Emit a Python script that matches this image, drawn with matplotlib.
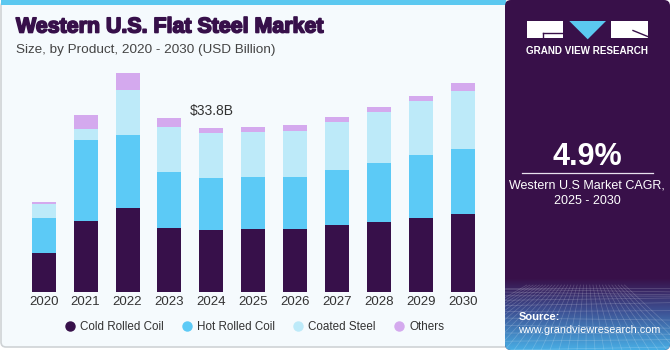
import numpy as np
import matplotlib.pyplot as plt
import matplotlib.patheffects as pe
from matplotlib.patches import FancyBboxPatch, Rectangle, Polygon
from matplotlib.lines import Line2D

plt.rcParams['font.family'] = ['Liberation Sans', 'DejaVu Sans']

# Data (USD Billion)
years = ['2020', '2021', '2022', '2023', '2024', '2025', '2026', '2027', '2028', '2029', '2030']
cold_rolled = [8.0, 14.7, 17.4, 13.3, 12.85, 12.9, 13.0, 13.75, 14.4, 15.25, 16.1]
hot_rolled = [7.2, 16.6, 14.9, 11.4, 10.7, 10.75, 10.75, 11.3, 12.2, 12.9, 13.35]
coated = [2.9, 2.3, 9.2, 9.2, 9.25, 9.3, 9.45, 10.0, 10.4, 11.15, 11.9]
others = [0.4, 2.8, 3.6, 1.85, 1.0, 0.9, 1.1, 0.95, 1.03, 1.03, 1.7]
series_names = ['Cold Rolled Coil', 'Hot Rolled Coil', 'Coated Steel', 'Others']
colors = ['#37104a', '#5ccaf6', '#bdeaf9', '#d4a9ee']
label_year = '2024'
label_text = '$33.8B'
cagr = '4.9%'

W, H = 670, 350
fig = plt.figure(figsize=(W / 100, H / 100), dpi=100)
fig.patch.set_facecolor('white')

# background axes in pixel coordinates
bg = fig.add_axes([0, 0, 1, 1])
bg.set_xlim(0, W)
bg.set_ylim(H, 0)
bg.axis('off')

# left panel
bg.add_patch(FancyBboxPatch((1, 1), 508, 346, boxstyle='round,pad=0,rounding_size=5',
                            facecolor='#f5fafd', edgecolor='#cfd3d6', lw=1.2))
bg.add_patch(Rectangle((1, 0), 505, 5, facecolor='#5bc8f0', edgecolor='none'))

# right panel with gradient bottom
panel = FancyBboxPatch((505, 0), 165, 350, boxstyle='round,pad=0,rounding_size=6',
                       facecolor='#381049', edgecolor='none')
bg.add_patch(panel)
t = np.linspace(0, 1, 100)[:, None]
top = np.array([0x38, 0x10, 0x49]) / 255
mid = np.array([0x3d, 0x4f, 0x92]) / 255
bot = np.array([0x48, 0xad, 0xe4]) / 255
grad = np.where(t < 0.45, top + (mid - top) * (t / 0.45), mid + (bot - mid) * ((t - 0.45) / 0.55))
grad = grad[:, None, :].repeat(2, axis=1)
im = bg.imshow(grad, extent=[505, 670, 350, 278], aspect='auto', zorder=1)
im.set_clip_path(panel)
# perspective grid decoration
for k in range(12):
    yy = 288 + 62 * (k / 11) ** 1.6
    ln, = bg.plot([505, 670], [yy, yy + 3 * np.sin(k)], color='white', lw=0.5, alpha=0.2, zorder=2)
    ln.set_clip_path(panel)
for k in range(-10, 22):
    x0 = 505 + k * 9
    ln, = bg.plot([587 + (x0 - 587) * 0.35, x0], [285, 350], color='white', lw=0.5, alpha=0.2, zorder=2)
    ln.set_clip_path(panel)

# logo
bg.add_patch(Rectangle((527.3, 21), 36, 17.3, facecolor='white', zorder=3))
bg.plot([543.3, 563.3], [33.3, 33.3], color='#381049', lw=1, zorder=4)
bg.plot([543.3, 543.3], [33.3, 38.3], color='#381049', lw=1, zorder=4)
bg.add_patch(Polygon([[569.3, 21], [606, 21], [587.7, 39.3]], facecolor='#5bc8f0', zorder=3))
bg.add_patch(Rectangle((610.7, 21), 37, 17.3, facecolor='white', zorder=3))
bg.plot([633, 647.7], [30.5, 36.5], color='#381049', lw=1, zorder=4)
bg.text(587.5, 51.5, 'GRAND VIEW RESEARCH', color='white', fontsize=7.1, fontweight='bold',
        ha='center', va='center', zorder=4)

bg.text(587, 157, cagr, color='white', fontsize=22, fontweight='bold', ha='center', va='center', zorder=4)
bg.plot([522, 652.7], [173.3, 173.3], color='#e8e2ee', lw=0.9, zorder=4)
bg.text(587, 186, 'Western U.S Market CAGR,', color='white', fontsize=9, ha='center', va='center', zorder=4)
bg.text(587, 201.5, '2025 - 2030', color='white', fontsize=9, ha='center', va='center', zorder=4)
bg.text(518.5, 316.5, 'Source:', color='white', fontsize=8, fontweight='bold', ha='left', va='center', zorder=4)
bg.text(518.5, 330, 'www.grandviewresearch.com', color='white', fontsize=7.8, ha='left', va='center', zorder=4)

# titles
bg.text(16, 27, 'Western U.S. Flat Steel Market', color='#37104a', fontsize=15.4, fontweight='bold',
        ha='left', va='center', path_effects=[pe.withStroke(linewidth=1.2, foreground='#37104a')])
bg.text(16.5, 50, 'Size, by Product, 2020 - 2030 (USD Billion)', color='#444444', fontsize=9.7,
        ha='left', va='center')

# chart axes
ax = fig.add_axes([22.75 / W, (H - 292.3) / H, 461 / W, (292.3 - 60) / H])
ax.set_facecolor('none')
x = np.arange(len(years))
bottom = np.zeros(len(years))
for vals, c, name in zip([cold_rolled, hot_rolled, coated, others], colors, series_names):
    ax.bar(x, vals, bottom=bottom, width=0.573, color=c, edgecolor='none', label=name)
    bottom += np.array(vals)
ax.set_xlim(-0.5, len(years) - 0.5)
ax.set_ylim(0, (292.3 - 60) / 4.87)
ax.set_xticks(x)
ax.set_xticklabels(years, fontsize=9.5, color='#333333')
ax.tick_params(axis='x', length=0, pad=3)
ax.set_yticks([])
for s in ax.spines.values():
    s.set_visible(False)

i = years.index(label_year)
ax.text(x[i], bottom[i] + 3.4, label_text, ha='center', va='center', fontsize=10, color='#333333')

handles = [Line2D([], [], marker='o', linestyle='none', markersize=6.5, color=c) for c in colors]
fig.legend(handles, series_names, loc='center', bbox_to_anchor=(254 / W, 1 - 327.5 / H), ncol=4,
           frameon=False, fontsize=8.4, handletextpad=0.4, columnspacing=1.45, handlelength=1,
           labelcolor='#333333')

fig.savefig('out.png', dpi=100)
